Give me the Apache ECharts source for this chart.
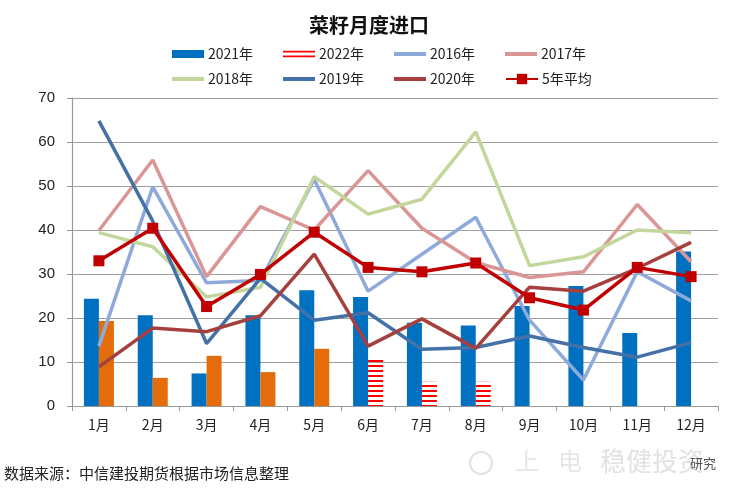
<!DOCTYPE html>
<html>
<head>
<meta charset="utf-8">
<script src="https://cdn.jsdelivr.net/npm/echarts@6/dist/echarts.min.js"></script>
<style>html,body{margin:0;padding:0;background:#fff}#c{width:738px;height:494px}</style>
</head>
<body>
<div id="c"></div>
<script>
var months = ['1月','2月','3月','4月','5月','6月','7月','8月','9月','10月','11月','12月'];
var yTicks = [0,10,20,30,40,50,60,70];
var v2021 = [24.4, 20.6, 7.4, 20.6, 26.3, 24.8, 18.9, 18.3, 22.7, 27.3, 16.6, 35.1];
var v2022 = [19.3, 6.4, 11.4, 7.7, 13.0, 11.0, 5.5, 5.5, null, null, null, null];
var v2016 = [13.6, 49.8, 28.0, 28.5, 51.5, 26.1, 34.5, 42.9, 19.5, 5.9, 30.5, 23.9];
var v2017 = [39.9, 55.9, 29.4, 45.3, 40.0, 53.5, 40.4, 32.6, 29.2, 30.5, 45.8, 32.8];
var v2018 = [39.4, 36.2, 24.8, 27.0, 52.1, 43.6, 47.0, 62.3, 31.9, 33.9, 40.0, 39.4];
var v2019 = [64.8, 42.0, 14.2, 29.0, 19.5, 21.2, 12.9, 13.3, 15.9, 13.3, 11.1, 14.4];
var v2020 = [8.9, 17.7, 16.9, 20.5, 34.5, 13.6, 19.8, 13.1, 27.0, 26.1, 31.3, 37.2];
var vAvg  = [33.0, 40.4, 22.6, 29.9, 39.5, 31.5, 30.5, 32.5, 24.6, 21.8, 31.5, 29.4];
var orangeCount = 5; // 2022: first months drawn solid orange, later months striped

var stripe = document.createElement('canvas');
stripe.width = 4; stripe.height = 5;
var sctx = stripe.getContext('2d');
sctx.fillStyle = '#ff0000';
sctx.fillRect(0, 0, 4, 2);
var stripePattern = {image: stripe, repeat: 'repeat'};

var data2022 = v2022.map(function (v, i) {
  return {value: v, itemStyle: {color: i < orangeCount ? '#E46C0A' : stripePattern}};
});

var chart = echarts.init(document.getElementById('c'), null, {renderer: 'canvas'});
var sansCJK = '"Noto Sans CJK SC", "Liberation Sans", sans-serif';
var lw = 3.5;
function lineSeries(name, data, color) {
  return {name: name, type: 'line', data: data, symbol: 'none', smooth: false,
    lineStyle: {color: color, width: lw}, itemStyle: {color: color}};
}
function leg(name, left, top, h, icon) {
  var item = {name: name};
  if (icon) item.icon = icon;
  return {data: [item], left: left, top: top, itemWidth: 32, itemHeight: h || 8, itemGap: 0,
    textStyle: {fontFamily: sansCJK, fontSize: 14, color: '#222', padding: [0,0,0,-1]}, selectedMode: false};
}
var r1 = 42, r2 = 67;
var option = {
  animation: false,
  backgroundColor: '#fff',
  title: {text: '菜籽月度进口', left: 'center', top: 10,
    textStyle: {fontFamily: sansCJK, fontSize: 20, fontWeight: 'bold', color: '#111'}},
  legend: [
    leg('2021年', 167, r1, 8, 'rect'), leg('2022年', 278, r1, 7, 'rect'),
    leg('2016年', 389, r1, 4, 'rect'), leg('2017年', 500, r1, 4, 'rect'),
    leg('2018年', 167, r2, 4, 'rect'), leg('2019年', 278, r2, 4, 'rect'),
    leg('2020年', 389, r2, 4, 'rect'), leg('5年平均', 500, r2, 13)
  ],
  grid: {left: 72, right: 20, top: 98, bottom: 88, containLabel: false},
  xAxis: {type: 'category', data: months, boundaryGap: true,
    axisLine: {lineStyle: {color: '#999', width: 1.2}},
    axisTick: {show: true, length: 5, lineStyle: {color: '#999'}},
    axisLabel: {fontFamily: sansCJK, fontSize: 14, color: '#222', margin: 12}},
  yAxis: {type: 'value', min: yTicks[0], max: yTicks[yTicks.length - 1], interval: 10,
    axisLine: {show: true, lineStyle: {color: '#999', width: 1.2}},
    axisTick: {show: true, length: 5, inside: false, lineStyle: {color: '#999'}},
    splitLine: {lineStyle: {color: '#a0a0a0', width: 1.2}},
    axisLabel: {fontFamily: '"Liberation Sans", sans-serif', fontSize: 15, color: '#222', margin: 17}},
  series: [
    {name: '2021年', type: 'bar', data: v2021, barWidth: 15, barGap: '0%', itemStyle: {color: '#0070C0'}},
    {name: '2022年', type: 'bar', data: data2022, barWidth: 15, barGap: '0%', itemStyle: {color: stripePattern}},
    lineSeries('2016年', v2016, '#8EAADB'),
    lineSeries('2017年', v2017, '#D99694'),
    lineSeries('2018年', v2018, '#C3D69B'),
    lineSeries('2019年', v2019, '#4472A8'),
    lineSeries('2020年', v2020, '#A5403E'),
    {name: '5年平均', type: 'line', data: vAvg, symbol: 'rect', symbolSize: 11, showSymbol: true,
      lineStyle: {color: '#C00000', width: lw}, itemStyle: {color: '#C00000'}}
  ],
  graphic: [
    {type: 'text', left: 4, top: 466, style: {text: '数据来源：中信建投期货根据市场信息整理',
      font: '15px "Noto Sans CJK SC", sans-serif', fill: '#222'}},
    {type: 'circle', shape: {cx: 481, cy: 463, r: 11}, style: {fill: 'none', stroke: '#e2e2e2', lineWidth: 2}},
    {type: 'text', left: 515, top: 449, style: {text: '上', font: '24px "Noto Sans CJK SC", sans-serif', fill: '#e6e6e6'}},
    {type: 'text', left: 558, top: 449, style: {text: '电', font: '24px "Noto Sans CJK SC", sans-serif', fill: '#e6e6e6'}},
    {type: 'text', left: 600, top: 448, style: {text: '稳健投资', font: '26px "Noto Sans CJK SC", sans-serif', fill: '#e2e2e2'}},
    {type: 'text', left: 690, top: 457, style: {text: '研究', font: '13px "Noto Sans CJK SC", sans-serif', fill: '#555'}}
  ]
};
chart.setOption(option);
</script>
</body>
</html>
